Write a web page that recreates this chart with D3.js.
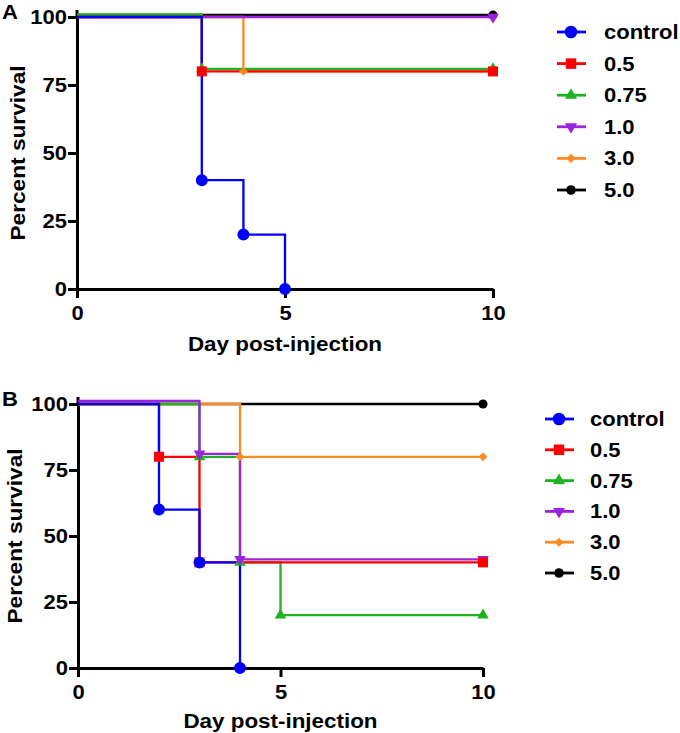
<!DOCTYPE html>
<html>
<head>
<meta charset="utf-8">
<script src="https://cdn.jsdelivr.net/npm/d3@7"></script>
<style>
  html, body { margin: 0; padding: 0; background: #fff; }
  svg { display: block; }
  text { font-family: "Liberation Sans", Arial, Helvetica, sans-serif; font-weight: bold; fill: #000; }
</style>
</head>
<body>
<script>
// ---------- data ----------
const seriesNames = ["control", "0.5", "0.75", "1.0", "3.0", "5.0"];
const xTicks = [0, 5, 10];
const yTicks = [0, 25, 50, 75, 100];
const xTitle = "Day post-injection";
const yTitle = "Percent survival";

// Panel A: step points (day, percent survival) per series
const panelADays = [[0, 3, 4, 5], [0, 3, 10], [0, 3, 10], [0, 10], [0, 4, 10], [0, 10]];
const panelAPct  = [[100, 40, 20, 0], [100, 80, 80], [100, 80, 80], [100, 100], [100, 80, 80], [100, 100]];

// Panel B
const panelBDays = [[0, 2, 3, 4], [0, 2, 3, 10], [0, 3, 4, 5, 10], [0, 3, 4, 10], [0, 4, 10], [0, 10]];
const panelBPct  = [[100, 60, 40, 0], [100, 80, 40, 40], [100, 80, 40, 20, 20], [100, 80, 40, 40], [100, 80, 80], [100, 100]];

// ---------- styles ----------
const colors = ["#0000ff", "#ff0000", "#1fb31f", "#9b22e0", "#ff8a1f", "#000000"];
const symbolKinds = ["circle", "square", "triangle", "triangleDown", "diamond", "smallCircle"];
const STRETCH = 1.1;

const W = 680, H = 733;
const svg = d3.select("body").append("svg").attr("width", W).attr("height", H);

function symbolPath(kind, scale) {
  const s = scale || 1;
  switch (kind) {
    case "circle": return d3.symbol(d3.symbolCircle, 113 * s)();
    case "square": return d3.symbol(d3.symbolSquare, 100 * s)();
    case "triangle": return d3.symbol(d3.symbolTriangle, 58 * s)();
    case "triangleDown": return d3.symbol(d3.symbolTriangle, 58 * s)();
    case "diamond": return d3.symbol(d3.symbolSquare, 38 * s)();
    case "smallCircle": return d3.symbol(d3.symbolCircle, 66 * s)();
  }
}
function symbolRotate(kind) {
  if (kind === "triangleDown") return 180;
  if (kind === "diamond") return 45;
  return 0;
}

function stretch(sel, k) {
  sel.each(function () {
    const w = this.getComputedTextLength();
    this.setAttribute("textLength", w * (k || STRETCH));
    this.setAttribute("lengthAdjust", "spacingAndGlyphs");
  });
}

function drawPanel(cfg) {
  const g = svg.append("g");
  const x = d3.scaleLinear().domain([0, 10]).range([cfg.x0, cfg.x1]);
  const y = d3.scaleLinear().domain([0, 100]).range([cfg.yBot, cfg.yTop]);

  // axes
  const xAxis = d3.axisBottom(x).tickValues(xTicks).tickSize(9).tickSizeOuter(0).tickPadding(8);
  const yAxis = d3.axisLeft(y).tickValues(yTicks).tickSize(9).tickSizeOuter(0).tickPadding(1);

  const gx = g.append("g").attr("transform", `translate(0,${cfg.yBot})`).call(xAxis);
  const gy = g.append("g").attr("transform", `translate(${cfg.x0},0)`).call(yAxis);
  [gx, gy].forEach(a => {
    a.selectAll("path.domain").attr("stroke", "#000").attr("stroke-width", 3);
    a.selectAll(".tick line").attr("stroke", "#000").attr("stroke-width", 3);
    a.selectAll(".tick text").attr("font-size", 20).attr("font-weight", "bold")
      .attr("font-family", "'Liberation Sans', Arial, sans-serif").attr("fill", "#000");
    stretch(a.selectAll(".tick text"));
  });
  // small extension of y axis above 100
  g.append("line").attr("x1", cfg.x0).attr("x2", cfg.x0)
    .attr("y1", cfg.yTop).attr("y2", cfg.yTop - 7)
    .attr("stroke", "#000").attr("stroke-width", 3);

  const line = d3.line().curve(d3.curveStepAfter);

  // lines
  cfg.order.forEach(i => {
    const pts = cfg.days[i].map((d, j) => [x(d), y(cfg.pct[i][j]) + cfg.offsets[i]]);
    g.append("path").attr("d", line(pts)).attr("fill", "none")
      .attr("stroke", colors[i]).attr("stroke-width", 2.3).attr("stroke-linejoin", "miter");
  });
  // markers
  cfg.order.forEach(i => {
    cfg.days[i].forEach((d, j) => {
      if (j === 0) return;
      g.append("path").attr("d", symbolPath(symbolKinds[i]))
        .attr("transform", `translate(${x(d)},${y(cfg.pct[i][j]) + cfg.offsets[i]}) rotate(${symbolRotate(symbolKinds[i])})`)
        .attr("fill", colors[i]);
    });
  });

  // axis titles
  const xt = g.append("text").attr("x", x(5)).attr("y", cfg.xTitleY)
    .attr("text-anchor", "middle").attr("font-size", 20).text(xTitle);
  stretch(xt, 1.12);
  const yt = g.append("text")
    .attr("transform", `translate(${cfg.yTitleX},${(cfg.yTop + cfg.yBot) / 2}) rotate(-90)`)
    .attr("text-anchor", "middle").attr("font-size", 21).text(yTitle);
  stretch(yt, 1.08);

  // panel label
  const pl = g.append("text").attr("x", 2).attr("y", cfg.labelY).attr("font-size", 21).text(cfg.label);
  stretch(pl, 1.05);

  // legend
  seriesNames.forEach((name, i) => {
    const lg = g.append("g").attr("transform", `translate(${cfg.legX},${cfg.legY + i * cfg.legStep})`);
    lg.append("line").attr("x1", -14).attr("x2", 15).attr("y1", 0).attr("y2", 0)
      .attr("stroke", colors[i]).attr("stroke-width", 2.8);
    lg.append("path").attr("d", symbolPath(symbolKinds[i], 1.1))
      .attr("transform", `rotate(${symbolRotate(symbolKinds[i])})`).attr("fill", colors[i]);
    const t = lg.append("text").attr("x", cfg.legTextDx).attr("y", 0).attr("dy", "0.35em")
      .attr("font-size", 20).text(name);
    stretch(t);
  });
}

drawPanel({
  label: "A", labelY: 19,
  days: panelADays, pct: panelAPct,
  offsets: [0, 0, -2.5, 0, 0, -2],
  order: [5, 4, 3, 2, 1, 0],
  x0: 77, x1: 493, yTop: 17, yBot: 289,
  xTitleY: 351, yTitleX: 25,
  legX: 571, legY: 32, legStep: 31.6, legTextDx: 33
});

drawPanel({
  label: "B", labelY: 406,
  days: panelBDays, pct: panelBPct,
  offsets: [0, 0, 0, -3, 0, 0],
  order: [5, 4, 2, 3, 1, 0],
  x0: 78, x1: 483, yTop: 404, yBot: 668,
  xTitleY: 728, yTitleX: 22,
  legX: 559, legY: 419, legStep: 30.8, legTextDx: 31
});
</script>
</body>
</html>
